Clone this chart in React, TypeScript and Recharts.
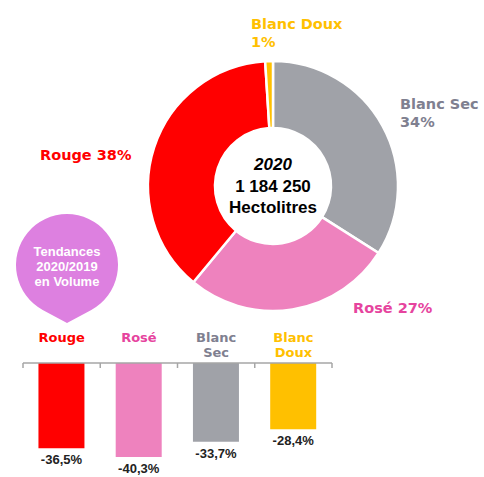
import { PieChart, Pie, Cell, BarChart, Bar, XAxis, YAxis, LabelList } from 'recharts'

// répartition 2020 (donut)
const pieNames = ['Blanc Sec', 'Rosé', 'Rouge', 'Blanc Doux']
const pieShares = [34, 27, 38, 1]
const pieColors = ['#A0A2A8', '#EE82BE', '#FF0000', '#FFC000']
const pieTextColors = ['#7F8090', '#E6449E', '#FF0000', '#FFC000']

// tendances 2020/2019 (barres)
const barNames = ['Rouge', 'Rosé', 'Blanc Sec', 'Blanc Doux']
const barLines = [['Rouge'], ['Rosé'], ['Blanc', 'Sec'], ['Blanc', 'Doux']]
const barTrend = [-36.5, -40.3, -33.7, -28.4]
const barColors = ['#FF0000', '#EE82BE', '#A0A2A8', '#FFC000']
const barTextColors = ['#FF0000', '#E6449E', '#7F8090', '#FFC000']

const totalYear = '2020'
const totalVolume = '1 184 250'
const totalUnit = 'Hectolitres'
const bubbleLines = ['Tendances', '2020/2019', 'en Volume']

// où poser les étiquettes du donut, par rapport au centre
const pieLabelPos = [
  { dx: 127, dy: -77, split: true },
  { dx: 80, dy: 127, split: false },
  { dx: -233, dy: -26, split: false },
  { dx: -22, dy: -157, split: true },
]

const pieData = pieNames.map((name, i) => ({ name, value: pieShares[i] }))
const barData = barNames.map((name, i) => ({ name, value: barTrend[i] }))

const boldSans = { fontFamily: '"DejaVu Sans", Verdana, sans-serif', fontWeight: 700 }
const arial = { fontFamily: '"Liberation Sans", Arial, sans-serif', fontWeight: 700 }
const axisGrey = '#A6A6A6'

const fmtTrend = (v: number) => `${v.toFixed(1).replace('.', ',')}%`

function PieLabel(props: any) {
  const { cx, cy, index } = props
  const pos = pieLabelPos[index]
  const color = pieTextColors[index]
  const x = cx + pos.dx
  const y = cy + pos.dy
  const pct = `${pieShares[index]}%`
  return (
    <g>
      {pos.split ? (
        <text x={x} y={y} fill={color} fontSize={14.5} style={boldSans}>
          <tspan x={x}>{pieNames[index]}</tspan>
          <tspan x={x} dy={18}>{pct}</tspan>
        </text>
      ) : (
        <text x={x} y={y} fill={color} fontSize={14.5} style={boldSans}>
          {`${pieNames[index]} ${pct}`}
        </text>
      )}
      {index === 0 && (
        <text x={cx} y={cy - 16} textAnchor="middle" fill="#000" fontSize={17} style={arial}>
          <tspan x={cx} fontStyle="italic">{totalYear}</tspan>
          <tspan x={cx} dy={22}>{totalVolume}</tspan>
          <tspan x={cx} dy={21}>{totalUnit}</tspan>
        </text>
      )}
    </g>
  )
}

// libellé de catégorie + petits traits aux limites des catégories
function CatTick(props: any) {
  const { x, y, index, payload } = props
  const lines = barLines[index] || []
  const half = payload && payload.offset ? payload.offset : 38.6
  const axisY = y + 8
  const isLast = index === barNames.length - 1
  return (
    <g>
      <line x1={x - half} x2={x - half} y1={axisY} y2={axisY + 5} stroke={axisGrey} strokeWidth={1.5} />
      {isLast && <line x1={x + half} x2={x + half} y1={axisY} y2={axisY + 5} stroke={axisGrey} strokeWidth={1.5} />}
      <text x={x} y={y - 13.5} textAnchor="middle" fill={barTextColors[index]} fontSize={13} style={boldSans}>
        {lines.map((l, i) => (
          <tspan key={i} x={x} dy={i === 0 ? 0 : 15.5}>{l}</tspan>
        ))}
      </text>
    </g>
  )
}

function ValueLabel(props: any) {
  const x = Number(props.x)
  const y = Number(props.y)
  const width = Number(props.width)
  const height = Number(props.height)
  const bottom = Math.max(y, y + height)
  return (
    <text x={x + width / 2} y={bottom + 16} textAnchor="middle" fill="#222" fontSize={13} style={arial}>
      {fmtTrend(Number(props.value))}
    </text>
  )
}

export default function App() {
  return (
    <div style={{ position: 'absolute', left: 0, top: 0, width: 484, height: 477, background: '#fff' }}>
      <svg width={484} height={477} style={{ position: 'absolute', left: 0, top: 0 }}>
        <path d="M 67 323 L 42.7 309.9 A 51 51 0 1 1 91.3 309.9 Z" fill="#DD80E0" />
        <text x={67} y={255.5} textAnchor="middle" fill="#fff" fontSize={13} style={arial}>
          {bubbleLines.map((l, i) => (
            <tspan key={i} x={67} dy={i === 0 ? 0 : 15.3}>{l}</tspan>
          ))}
        </text>
      </svg>

      <div style={{ position: 'absolute', left: 0, top: 0 }}>
        <PieChart width={484} height={477} margin={{ top: 0, right: 0, bottom: 0, left: 0 }}>
          <Pie
            data={pieData}
            dataKey="value"
            nameKey="name"
            cx={273}
            cy={186}
            innerRadius={58}
            outerRadius={125}
            startAngle={90}
            endAngle={-270}
            stroke="#fff"
            strokeWidth={2.5}
            label={<PieLabel />}
            labelLine={false}
            isAnimationActive={false}
          >
            {pieData.map((d, i) => (
              <Cell key={d.name} fill={pieColors[i]} />
            ))}
          </Pie>
        </PieChart>
      </div>

      <div style={{ position: 'absolute', left: 0, top: 318 }}>
        <BarChart width={360} height={159} data={barData} margin={{ top: 0, right: 28, bottom: 9, left: 23 }} barCategoryGap="20%">
          <XAxis
            dataKey="name"
            orientation="top"
            height={45}
            interval={0}
            axisLine={{ stroke: axisGrey, strokeWidth: 1.5 }}
            tickLine={false}
            tickSize={6}
            tickMargin={2}
            tick={<CatTick />}
          />
          <YAxis hide domain={[-45, 0]} />
          <Bar dataKey="value" isAnimationActive={false}>
            {barData.map((d, i) => (
              <Cell key={d.name} fill={barColors[i]} />
            ))}
            <LabelList dataKey="value" content={<ValueLabel />} />
          </Bar>
        </BarChart>
      </div>
    </div>
  )
}
